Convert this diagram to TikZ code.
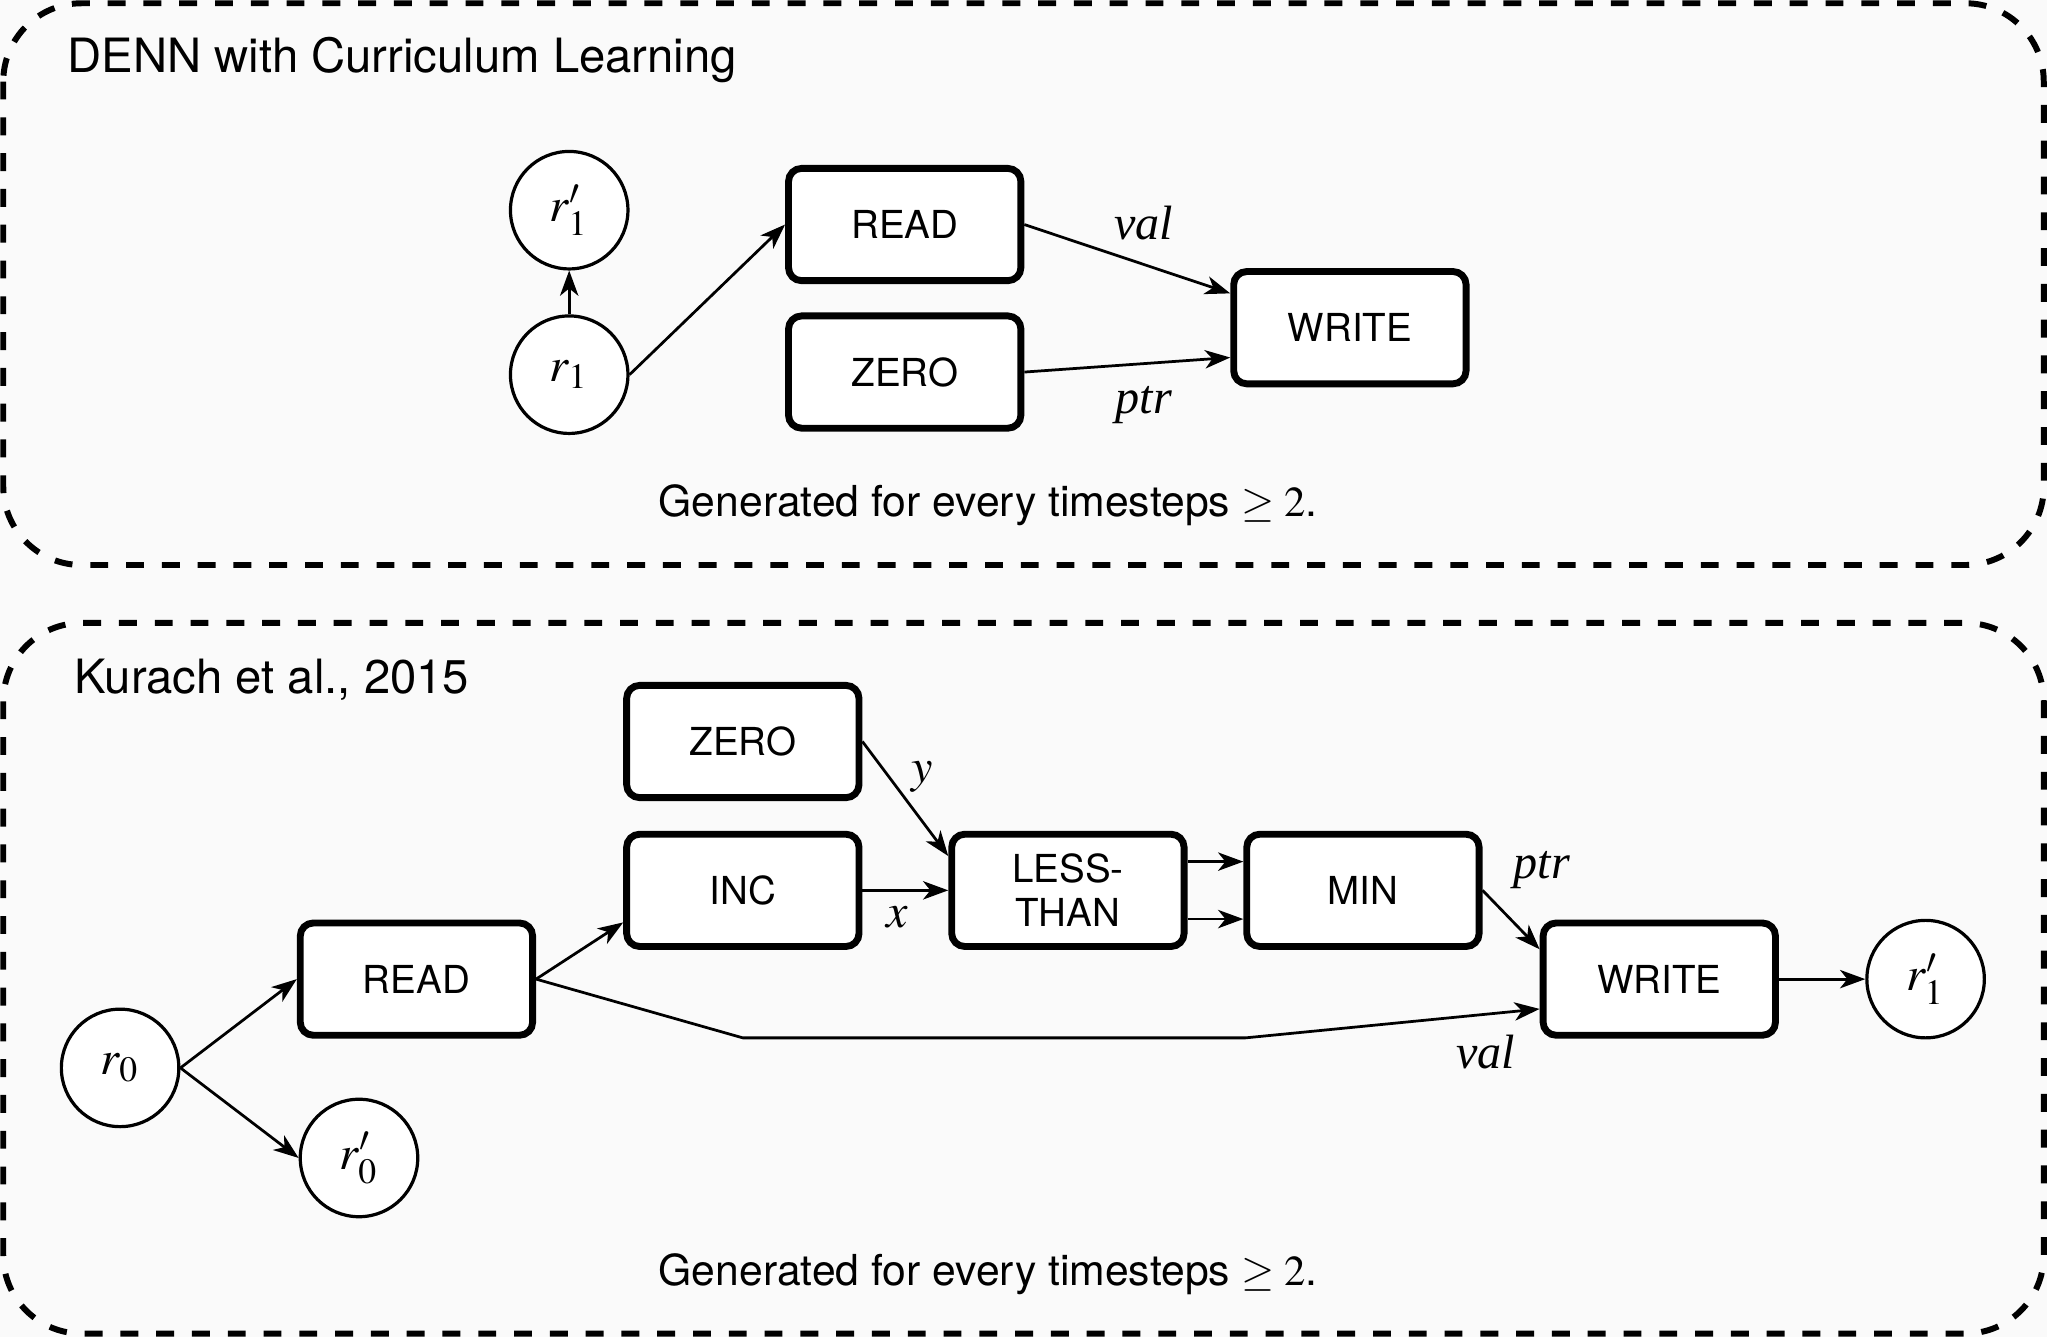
\documentclass[tikz,border=0pt]{standalone}
\usepackage{amsmath,amssymb}
\usepackage{mathptmx}
\usepackage[no-math]{fontspec}
\setmainfont{TeX Gyre Heros}
\newfontfamily\labelserif{Liberation Serif}
\usepackage{tikz}
\usetikzlibrary{calc, arrows.meta}
\definecolor{bgcol}{HTML}{FAFAFA}
\newcommand{\wire}[1]{{\labelserif\itshape #1}}
\tikzset{
  op/.style={draw, line width=1.5pt, rounded corners=1mm, fill=white, minimum width=1.78cm, minimum height=0.86cm, align=center, font=\fontsize{8.4}{9.6}\selectfont},
  reg/.style={draw, circle, line width=0.7pt, fill=white, minimum size=0.9cm, inner sep=0pt},
  panel/.style={draw, line width=1.3pt, dash pattern=on 3.9pt off 3.9pt, rounded corners=6mm},
  caption/.style={font=\fontsize{9.3}{11}\selectfont},
  heading/.style={anchor=west, font=\fontsize{10.3}{12}\selectfont}
}
\begin{document}
\begin{tikzpicture}[auto, >={Stealth[length=5.5pt,width=4pt,inset=1.6pt]}, line width=0.6pt, font=\fontsize{10.5}{12}\selectfont]
      \useasboundingbox[fill=bgcol] (0,0) rectangle (15.68,10.24);
      \draw[panel] (0.025,10.215) rectangle (15.655,5.912);
      \draw[panel] (0.025,5.468) rectangle (15.655,0.025);

      \node[heading] (title1) at (0.39,9.78) {DENN with Curriculum Learning};
      \node[reg] (r1p) at (4.36,8.63) {$r'_1$};
      \node[reg] (r1) at (4.36,7.37) {$r_1$};
      \node[op] (read1) at (6.93,8.52) {READ};
      \node[op] (zero1) at (6.93,7.39) {ZERO};
      \node[op] (write1) at (10.34,7.73) {WRITE};
      \node[caption] (gen1) at (7.57,6.37) {Generated for every timesteps $\geq 2$.};
      \draw[->] (r1) -- (r1p);
      \draw[->] (r1.east) -- (read1.west);
      \draw[->] (read1.east) -- node[above=0.6mm, pos=0.58] {\wire{val}} (write1.164);
      \draw[->] (zero1.east) -- node[below=0.5mm, pos=0.58] {\wire{ptr}} (write1.194);

      \node[heading] (title2) at (0.44,5.03) {Kurach et al., 2015};
      \node[reg] (r0) at (0.92,2.06) {$r_0$};
      \node[reg] (r0p) at (2.75,1.37) {$r'_0$};
      \node[op] (read2) at (3.19,2.74) {READ};
      \node[op] (zero2) at (5.69,4.56) {ZERO};
      \node[op] (inc) at (5.69,3.42) {INC};
      \node[op] (less) at (8.18,3.42) {LESS-\\THAN};
      \node[op] (min) at (10.44,3.42) {MIN};
      \node[op] (write2) at (12.71,2.74) {WRITE};
      \node[reg] (r1q) at (14.75,2.74) {$r'_1$};
      \node[caption] (gen2) at (7.57,0.48) {Generated for every timesteps $\geq 2$.};
      \coordinate (bendA) at (5.69,2.29);
      \coordinate (bendB) at (9.54,2.29);
      \draw[->] (r0.east) -- (read2.west);
      \draw[->] (r0.east) -- (r0p.west);
      \draw[->] (read2.east) -- (inc.195);
      \draw[->] (read2.east) -- (bendA) -- (bendB) -- node[swap, pos=0.66] {\wire{val}} (write2.194);
      \draw[->] (zero2.east) -- node[pos=0.5, inner sep=1pt] {$y$} (less.164);
      \draw[->] (inc.east) -- node[swap, pos=0.4] {$x$} (less.west);
      \draw[->] ([yshift=2.2mm]less.east) -- ([yshift=2.2mm]min.west);
      \draw[->] ([yshift=-2.2mm]less.east) -- ([yshift=-2.2mm]min.west);
      \draw[->] (min.east) -- node[pos=0.25] {\wire{ptr}} (write2.166);
      \draw[->] (write2.east) -- (r1q.west);
    \end{tikzpicture}
\end{document}
